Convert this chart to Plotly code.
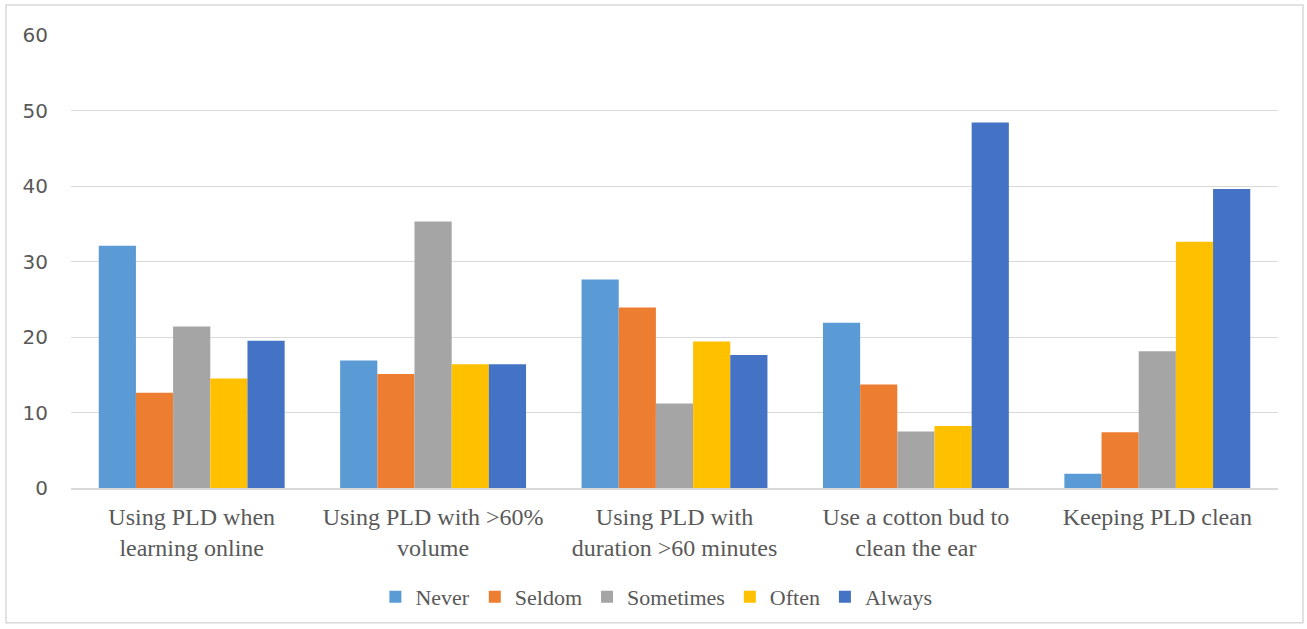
import plotly.graph_objects as go

categories = ["Using PLD when<br>learning online", "Using PLD with >60%<br>volume",
              "Using PLD with<br>duration >60 minutes", "Use a cotton bud to<br>clean the ear",
              "Keeping PLD clean"]
series_names = ["Never", "Seldom", "Sometimes", "Often", "Always"]
never = [32.1, 16.9, 27.6, 21.9, 1.9]
seldom = [12.6, 15.1, 23.9, 13.7, 7.4]
sometimes = [21.4, 35.3, 11.2, 7.5, 18.1]
often = [14.5, 16.4, 19.4, 8.2, 32.6]
always = [19.5, 16.4, 17.6, 48.4, 39.6]
colors = ["#5B9BD5", "#ED7D31", "#A5A5A5", "#FFC000", "#4472C4"]

fig = go.Figure()
for name, vals, col in zip(series_names, [never, seldom, sometimes, often, always], colors):
    fig.add_trace(go.Bar(name=name, x=categories, y=vals, marker=dict(color=col, line=dict(width=0))))

W, H = 1307, 629
L, R, T, B = 71, 29, 35, 140
pw, ph = W - L - R, H - T - B

fig.update_layout(
    width=W, height=H,
    margin=dict(l=L, r=R, t=T, b=B),
    barmode="group", bargap=0.23, bargroupgap=0,
    plot_bgcolor="white", paper_bgcolor="white",
    font=dict(family="Liberation Serif", size=24, color="#595959"),
    legend=dict(orientation="h", x=0.485, xanchor="center", y=-(597 - 489) / ph, yanchor="middle",
                font=dict(family="Liberation Serif", size=22, color="#595959"),
                itemwidth=30, traceorder="normal"),
    xaxis=dict(showgrid=False, showline=True, linecolor="#D9D9D9", linewidth=1.5,
               tickfont=dict(family="Liberation Serif", size=24, color="#595959"),
               ticks="", ticklabelstandoff=6),
    yaxis=dict(range=[0, 60], dtick=10, showgrid=True, gridcolor="#D9D9D9", gridwidth=1.3,
               zeroline=False, showline=False, ticks="",
               tickfont=dict(family="DejaVu Sans", size=20, color="#595959"),
               ticklabelstandoff=22),
    shapes=[dict(type="rect", xref="paper", yref="paper",
                 x0=(6 - L) / pw, x1=(1303 - L) / pw,
                 y0=-(624 - (H - B)) / ph, y1=(H - B - 5) / ph,
                 line=dict(color="#D9D9D9", width=1.5), fillcolor="rgba(0,0,0,0)", layer="below")],
)
fig.write_html("out.html")
